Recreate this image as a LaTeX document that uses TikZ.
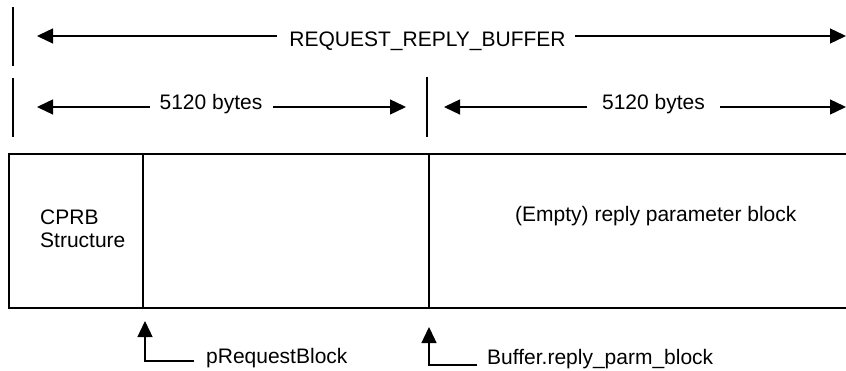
\documentclass[tikz,border=0pt]{standalone}
\usepackage{fontspec}
\setmainfont{Liberation Sans}
\usetikzlibrary{arrows.meta}
\begin{document}
\begin{tikzpicture}[x=1pt,y=-1pt,
  every node/.style={font=\fontsize{21}{23}\selectfont, inner sep=0pt},
  ln/.style={line width=1.3pt, black},
  arr/.style={ln, -{Triangle[length=16pt,width=15pt]}},
  lbl/.style={anchor=base}]
\useasboundingbox (0,0) rectangle (846,371);
% top row
\coordinate (t1a) at (13,7); \coordinate (t1b) at (13,66);
\draw[ln] (t1a) -- (t1b);
\node[lbl] (rrb) at (427.5,46.5) {REQUEST\_REPLY\_BUFFER};
\coordinate (rrbL) at (277,36); \coordinate (rrbR) at (575,36);
\coordinate (rrbLt) at (37,36); \coordinate (rrbRt) at (846,36);
\draw[arr] (rrbL) -- (rrbLt);
\draw[arr] (rrbR) -- (rrbRt);
% second row
\coordinate (t2a) at (13,78); \coordinate (t2b) at (13,137);
\draw[ln] (t2a) -- (t2b);
\coordinate (t3a) at (427,77); \coordinate (t3b) at (427,137);
\draw[ln] (t3a) -- (t3b);
\node[lbl] (b1) at (211,110) {5120 bytes};
\coordinate (b1L) at (150,107); \coordinate (b1R) at (273,107);
\coordinate (b1Lt) at (37,107); \coordinate (b1Rt) at (406,107);
\draw[arr] (b1L) -- (b1Lt);
\draw[arr] (b1R) -- (b1Rt);
\node[lbl] (b2) at (653.5,110) {5120 bytes};
\coordinate (b2L) at (587,107); \coordinate (b2R) at (720,107);
\coordinate (b2Lt) at (444,107); \coordinate (b2Rt) at (846,107);
\draw[arr] (b2L) -- (b2Lt);
\draw[arr] (b2R) -- (b2Rt);
% buffer box
\coordinate (bxTR) at (846,154); \coordinate (bxTL) at (9,154);
\coordinate (bxBL) at (9,308); \coordinate (bxBR) at (846,308);
\draw[ln] (bxTR) -- (bxTL) -- (bxBL) -- (bxBR);
\coordinate (d1t) at (143,154); \coordinate (d1b) at (143,308);
\coordinate (d2t) at (429,154); \coordinate (d2b) at (429,308);
\draw[ln] (d1t) -- (d1b);
\draw[ln] (d2t) -- (d2b);
\node[anchor=base west, align=left] (cprb) at (40,248) {CPRB\\Structure};
\node[anchor=base west] (empty) at (515,222) {(Empty) reply parameter block};
% pointers
\node[anchor=base west] (prb) at (206,363) {pRequestBlock};
\coordinate (p1tip) at (145,321); \coordinate (p1c) at (145,361); \coordinate (p1e) at (194,361);
\draw[arr] (p1e) -- (p1c) -- (p1tip);
\node[anchor=base west] (brpb) at (487,364) {Buffer.reply\_parm\_block};
\coordinate (p2tip) at (429,327); \coordinate (p2c) at (429,365); \coordinate (p2e) at (477,365);
\draw[arr] (p2e) -- (p2c) -- (p2tip);
\end{tikzpicture}
\end{document}
